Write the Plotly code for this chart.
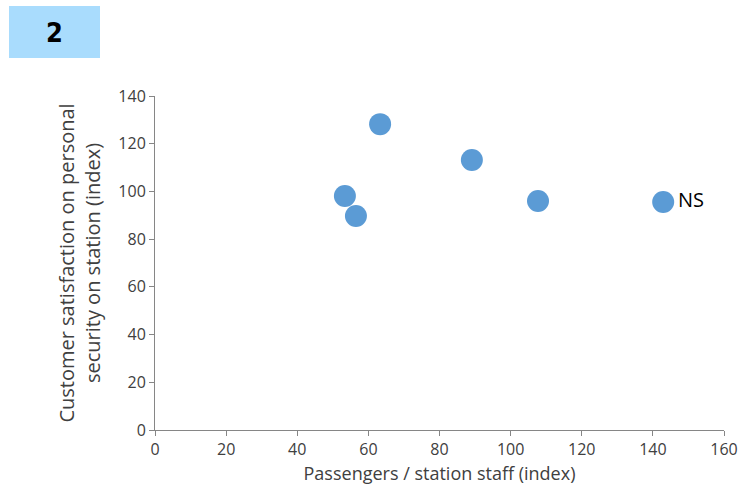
import plotly.graph_objects as go

x_vals = [63.3, 89.1, 53.4, 56.5, 107.7, 142.9]
y_vals = [128.2, 113.2, 98.1, 89.7, 96.0, 95.6]
point_labels = ["", "", "", "", "", "NS"]
x_ticks = [0, 20, 40, 60, 80, 100, 120, 140, 160]
y_ticks = [0, 20, 40, 60, 80, 100, 120, 140]

FONT = "Open Sans, sans-serif"

W, H = 742, 496
L, T = 155, 96
R = W - 724
B = H - 430
PW, PH = 724 - 155, 430 - 96

fig = go.Figure()
fig.add_trace(go.Scatter(
    x=x_vals, y=y_vals, mode="markers+text",
    text=point_labels, textposition="middle right",
    textfont=dict(size=20, color="#000000", family=FONT),
    marker=dict(size=22, color="#5B9BD5", line=dict(width=0)),
    cliponaxis=False, showlegend=False,
))

axis_common = dict(
    showgrid=False, zeroline=False, showline=True, linecolor="#868686", linewidth=1,
    ticks="outside", ticklen=5, tickcolor="#868686", automargin=False,
    ticklabeloverflow="allow",
    tickfont=dict(size=16, color="#404040", family=FONT),
)
fig.update_xaxes(range=[0, 160], tickvals=x_ticks, **axis_common,
                 title=dict(text="Passengers / station staff (index)",
                            font=dict(size=18, color="#404040", family=FONT), standoff=8))
fig.update_yaxes(range=[0, 140], tickvals=y_ticks, **axis_common,
                 title=dict(text="Customer satisfaction on personal<br>security on station (index)",
                            font=dict(size=20, color="#404040", family=FONT), standoff=12))

fig.add_shape(type="rect", xref="paper", yref="paper",
              x0=(9 - 155) / PW, x1=(100 - 155) / PW,
              y0=(430 - 58) / PH, y1=(430 - 6) / PH,
              fillcolor="#A9DCFD", line=dict(width=0), layer="below")
fig.add_annotation(xref="paper", yref="paper", x=(54 - 155) / PW, y=(430 - 32) / PH,
                   xanchor="center", yanchor="middle",
                   text="<b>2</b>", showarrow=False,
                   font=dict(size=27, color="#000000",
                             family="Liberation Sans Narrow, DejaVu Sans Condensed, sans-serif"))

fig.update_layout(
    width=W, height=H,
    margin=dict(l=L, r=R, t=T, b=B, autoexpand=False),
    paper_bgcolor="white", plot_bgcolor="white",
    font=dict(family=FONT),
)
fig.write_html("out.html",
               config={"displayModeBar": False},
               post_script="document.body.style.margin='0';document.body.style.overflow='hidden';")
